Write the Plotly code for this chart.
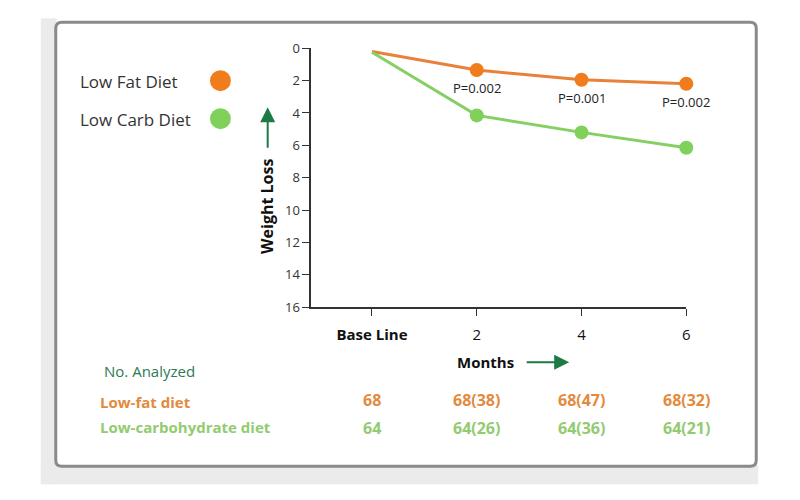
"""Low fat vs low carb diet: weight loss over 6 months."""

import plotly.graph_objects as go

months = [0, 2, 4, 6]
month_labels = ["<b>Base Line</b>", "2", "4", "6"]
low_fat_loss = [0.2, 1.35, 1.95, 2.2]
low_carb_loss = [0.25, 4.15, 5.2, 6.15]
p_values = ["P=0.002", "P=0.001", "P=0.002"]
p_months = [2, 4, 6]
n_low_fat = ["68", "68(38)", "68(47)", "68(32)"]
n_low_carb = ["64", "64(26)", "64(36)", "64(21)"]

W, H = 800, 500
FONT = "Open Sans"
ORANGE = "#f07c1c"
GREEN = "#7fd15c"
DARK_GREEN = "#1d7a45"

# page offset of the rendered paper (measured from a test render)
OX, OY, PH = 7, 16.8, 482


def px(x):
    return (x - OX) / W


def py(y):
    return 1 - (y - OY) / PH


def rounded_rect(x0, y0, x1, y1, r):
    # pixel box -> paper path with rounded corners
    rx, ry = r / W, r / PH
    a, b, c, d = px(x0), py(y1), px(x1), py(y0)  # left, bottom, right, top
    return (
        f"M {a + rx},{d} L {c - rx},{d} Q {c},{d} {c},{d - ry} "
        f"L {c},{b + ry} Q {c},{b} {c - rx},{b} "
        f"L {a + rx},{b} Q {a},{b} {a},{b + ry} "
        f"L {a},{d - ry} Q {a},{d} {a + rx},{d} Z"
    )


fig = go.Figure()
fig.add_trace(go.Scatter(
    x=months, y=low_fat_loss, name="Low Fat Diet",
    mode="lines+markers",
    line=dict(color="#e8823a", width=3),
    marker=dict(color=ORANGE, size=[0, 14, 14, 14], opacity=1, line=dict(width=0)),
    cliponaxis=False,
))
fig.add_trace(go.Scatter(
    x=months, y=low_carb_loss, name="Low Carb Diet",
    mode="lines+markers",
    line=dict(color="#86cf63", width=3),
    marker=dict(color=GREEN, size=[0, 14, 14, 14], opacity=1, line=dict(width=0)),
    cliponaxis=False,
))

shapes = [
    # grey backdrop strips
    dict(type="rect", xref="paper", yref="paper", layer="below",
         x0=px(40), x1=px(56), y0=py(484), y1=py(18),
         fillcolor="#ebebeb", line=dict(width=0)),
    dict(type="rect", xref="paper", yref="paper", layer="below",
         x0=px(40), x1=px(761), y0=py(484), y1=py(465),
         fillcolor="#ebebeb", line=dict(width=0)),
    # framed card
    dict(type="path", xref="paper", yref="paper", layer="below",
         path=rounded_rect(55, 22, 759, 466, 6),
         fillcolor="white", line=dict(color="#8a8a8a", width=3)),
    # legend dots
    dict(type="circle", xref="paper", yref="paper",
         x0=px(210), x1=px(231), y0=py(91), y1=py(70),
         fillcolor=ORANGE, line=dict(width=0)),
    dict(type="circle", xref="paper", yref="paper",
         x0=px(210), x1=px(231), y0=py(129), y1=py(108),
         fillcolor=GREEN, line=dict(width=0)),
]

annotations = [
    dict(text="Low Fat Diet", x=px(77), y=py(81), xanchor="left",
         font=dict(size=17, color="#333333")),
    dict(text="Low Carb Diet", x=px(77), y=py(119), xanchor="left",
         font=dict(size=17, color="#333333")),
    dict(text="<b>Weight Loss</b>", x=px(268), y=py(206), textangle=-90,
         font=dict(size=16, color="#111111")),
    dict(text="", x=px(268), y=py(107), ax=0, ay=42, showarrow=True,
         arrowhead=2, arrowsize=1.5, arrowwidth=2, arrowcolor=DARK_GREEN),
    dict(text="<b>Months</b>", x=px(487), y=py(362),
         font=dict(size=15, color="#111111")),
    dict(text="", x=px(571), y=py(362), ax=-44, ay=0, showarrow=True,
         arrowhead=2, arrowsize=1.5, arrowwidth=2, arrowcolor=DARK_GREEN),
    dict(text="No. Analyzed", x=px(101), y=py(371), xanchor="left",
         font=dict(size=15, color="#2e7a55")),
    dict(text="<b>Low-fat diet</b>", x=px(97), y=py(402), xanchor="left",
         font=dict(size=15, color="#e38a3e")),
    dict(text="<b>Low-carbohydrate diet</b>", x=px(97), y=py(427), xanchor="left",
         font=dict(size=15, color="#92cb70")),
]
for a in annotations:
    a.setdefault("xref", "paper")
    a.setdefault("yref", "paper")
    a.setdefault("xanchor", "center")
    a.setdefault("yanchor", "middle")
    a.setdefault("showarrow", False)
    if a.get("showarrow"):
        a["axref"] = "pixel"
        a["ayref"] = "pixel"

# p-values under the low fat points
p_offsets = [2.45, 3.1, 3.35]
for m, txt, yy in zip(p_months, p_values, p_offsets):
    annotations.append(dict(
        text=txt, x=m, y=yy, xref="x", yref="y", showarrow=False,
        xanchor="center", yanchor="middle",
        font=dict(size=13, color="#222222"),
    ))

# sample size rows aligned with the month ticks
for m, lf, lc in zip(months, n_low_fat, n_low_carb):
    annotations.append(dict(
        text=f"<b>{lf}</b>", x=m, y=py(400), xref="x", yref="paper",
        xanchor="center", yanchor="middle",
        showarrow=False, font=dict(size=16, color="#e38a3e"),
    ))
    annotations.append(dict(
        text=f"<b>{lc}</b>", x=m, y=py(428), xref="x", yref="paper",
        xanchor="center", yanchor="middle",
        showarrow=False, font=dict(size=16, color="#92cb70"),
    ))

fig.update_layout(
    width=W, height=H,
    margin=dict(l=0, r=0, t=0, b=0),
    paper_bgcolor="white",
    plot_bgcolor="rgba(0,0,0,0)",
    font=dict(family=FONT, color="#333333"),
    showlegend=False,
    shapes=shapes,
    annotations=annotations,
    xaxis=dict(
        domain=[px(312), px(688.7)],
        range=[-1.155, 6],
        tickvals=months, ticktext=month_labels,
        ticks="outside", ticklen=7, tickwidth=1, tickcolor="#333333",
        tickfont=dict(size=15, color="#111111"),
        ticklabelstandoff=6,
        showline=True, linecolor="#333333", linewidth=2,
        showgrid=False, zeroline=False,
    ),
    yaxis=dict(
        domain=[py(307), py(48)],
        range=[16, 0],
        tickvals=list(range(0, 17, 2)),
        ticks="outside", ticklen=7, tickwidth=1, tickcolor="#333333",
        tickfont=dict(size=13, color="#333333"),
        showline=True, linecolor="#333333", linewidth=2,
        showgrid=False, zeroline=False,
    ),
)

fig.write_html("out.html")
